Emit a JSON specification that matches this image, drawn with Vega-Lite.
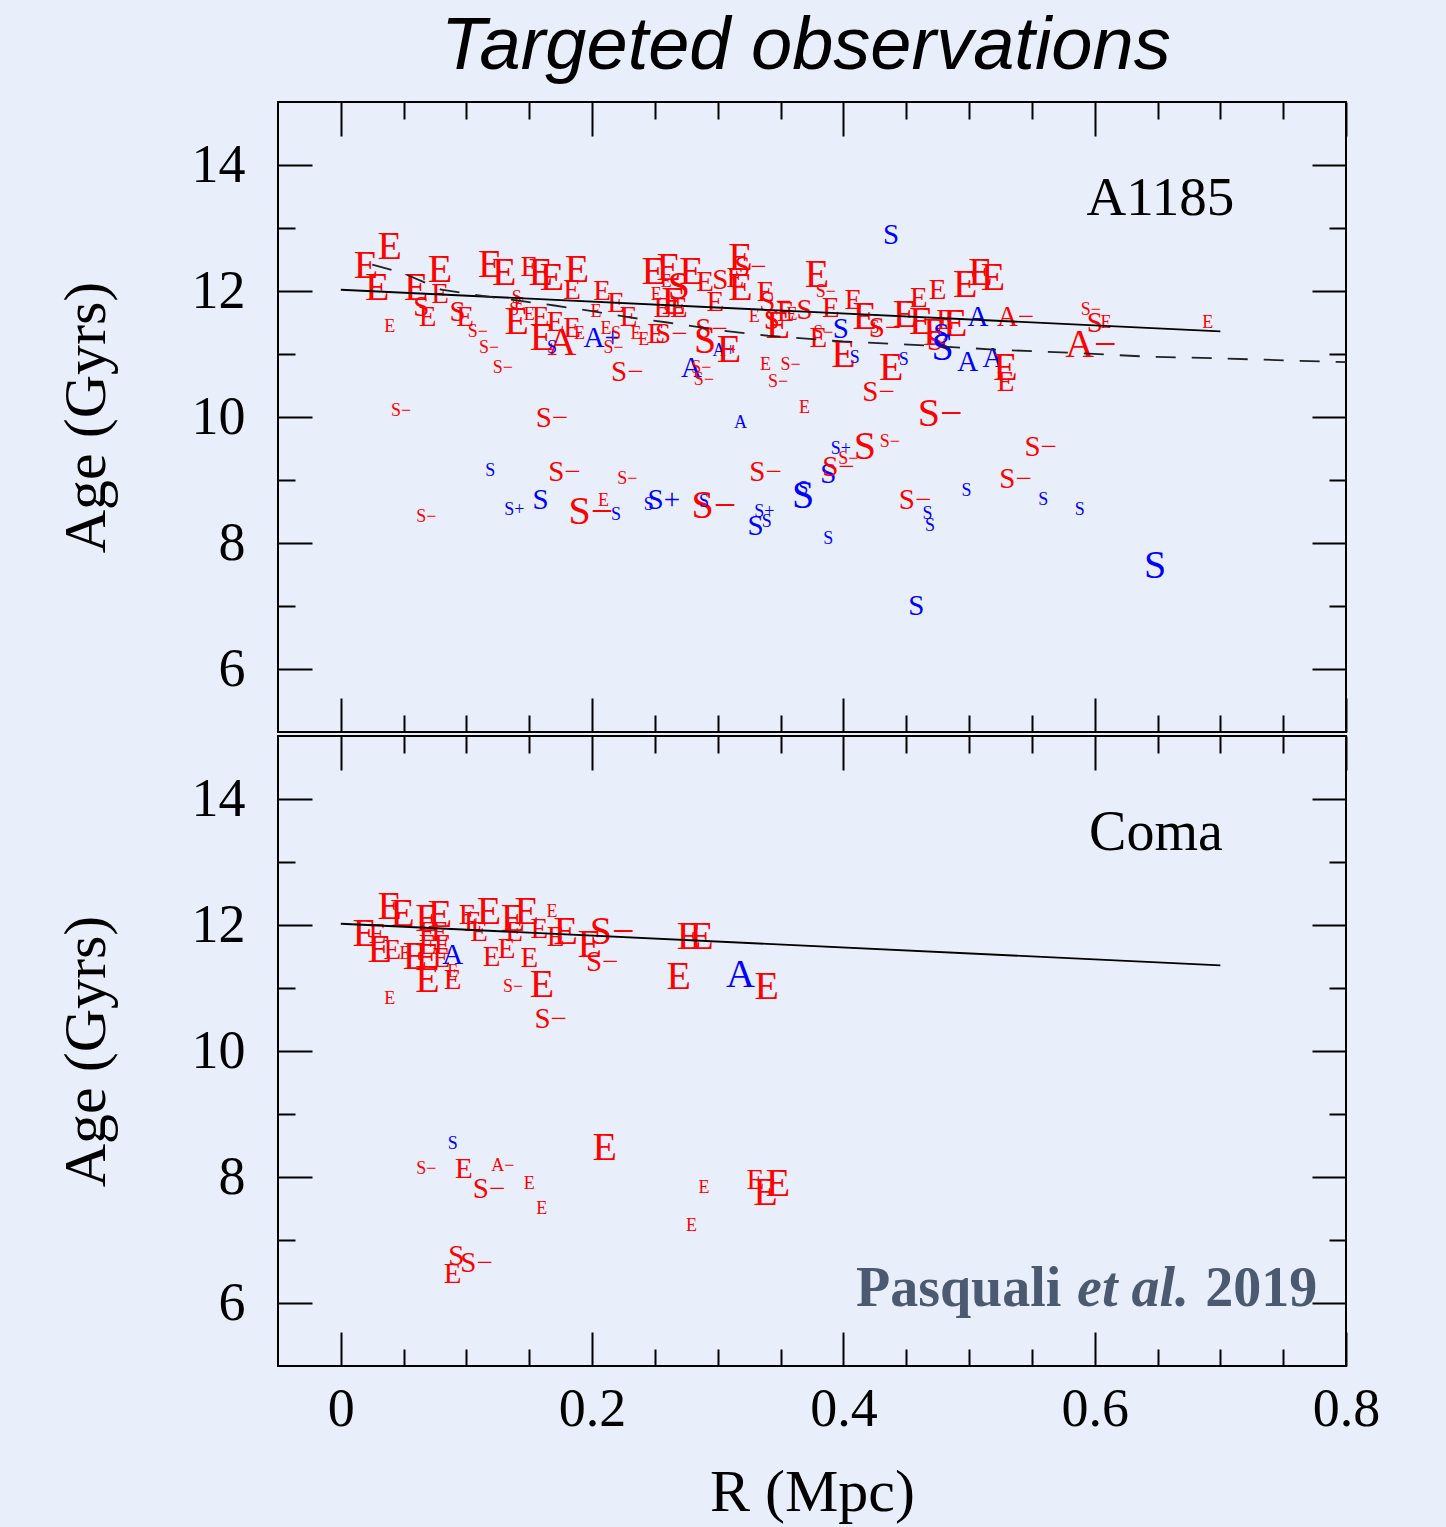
{
  "$schema": "https://vega.github.io/schema/vega-lite/v6.json",
  "background": "#e8effb",
  "padding": {"left": 55, "top": 10, "right": 70, "bottom": 20},
  "title": {
    "text": "Targeted observations",
    "font": "Liberation Sans",
    "fontStyle": "italic",
    "fontWeight": "normal",
    "fontSize": 74,
    "color": "#000000",
    "anchor": "middle",
    "baseline": "alphabetic",
    "offset": -43,
    "dx": 88
  },
  "config": {
    "view": {"stroke": "#000000", "strokeWidth": 2},
    "axis": {
      "domain": false,
      "grid": false,
      "tickColor": "#000000",
      "tickWidth": 2,
      "labelFont": "Liberation Serif",
      "labelFontSize": 54,
      "labelColor": "#000000",
      "titleFont": "Liberation Serif",
      "titleFontSize": 60,
      "titleFontWeight": "normal",
      "titleColor": "#000000"
    },
    "text": {"font": "Liberation Serif"}
  },
  "datasets": {
    "a1185": [
      {"r":0.020,"age":12.40,"t":"E","g":"R","w":3},
      {"r":0.039,"age":12.70,"t":"E","g":"R","w":3},
      {"r":0.029,"age":12.05,"t":"E","g":"R","w":3},
      {"r":0.039,"age":11.43,"t":"E","g":"R","w":1},
      {"r":0.048,"age":10.10,"t":"S−","g":"R","w":1},
      {"r":0.060,"age":12.05,"t":"E","g":"R","w":3},
      {"r":0.079,"age":12.34,"t":"E","g":"R","w":3},
      {"r":0.079,"age":11.96,"t":"E","g":"R","w":2},
      {"r":0.064,"age":11.75,"t":"S","g":"R","w":2},
      {"r":0.069,"age":11.58,"t":"E","g":"R","w":2},
      {"r":0.068,"age":8.41,"t":"S−","g":"R","w":1},
      {"r":0.093,"age":11.67,"t":"S","g":"R","w":2},
      {"r":0.099,"age":11.58,"t":"E","g":"R","w":2},
      {"r":0.109,"age":11.35,"t":"S−","g":"R","w":1},
      {"r":0.118,"age":11.10,"t":"S−","g":"R","w":1},
      {"r":0.129,"age":10.78,"t":"S−","g":"R","w":1},
      {"r":0.119,"age":12.42,"t":"E","g":"R","w":3},
      {"r":0.130,"age":12.29,"t":"E","g":"R","w":3},
      {"r":0.140,"age":11.51,"t":"E","g":"R","w":3},
      {"r":0.140,"age":11.89,"t":"S","g":"R","w":1},
      {"r":0.142,"age":11.78,"t":"E","g":"R","w":1},
      {"r":0.138,"age":11.70,"t":"S","g":"R","w":1},
      {"r":0.150,"age":12.38,"t":"E","g":"R","w":2},
      {"r":0.159,"age":12.29,"t":"E","g":"R","w":3},
      {"r":0.168,"age":12.21,"t":"E","g":"R","w":3},
      {"r":0.188,"age":12.34,"t":"E","g":"R","w":3},
      {"r":0.184,"age":12.02,"t":"E","g":"R","w":2},
      {"r":0.208,"age":12.00,"t":"E","g":"R","w":2},
      {"r":0.219,"age":11.81,"t":"E","g":"R","w":2},
      {"r":0.150,"age":11.62,"t":"E","g":"R","w":1},
      {"r":0.159,"age":11.58,"t":"E","g":"R","w":2},
      {"r":0.171,"age":11.51,"t":"E","g":"R","w":2},
      {"r":0.160,"age":11.26,"t":"E","g":"R","w":3},
      {"r":0.176,"age":11.18,"t":"A","g":"R","w":3},
      {"r":0.168,"age":11.10,"t":"S","g":"B","w":1},
      {"r":0.184,"age":11.42,"t":"E","g":"R","w":2},
      {"r":0.190,"age":11.31,"t":"E","g":"R","w":1},
      {"r":0.208,"age":11.26,"t":"A+","g":"B","w":2},
      {"r":0.211,"age":11.39,"t":"E","g":"R","w":1},
      {"r":0.219,"age":11.31,"t":"S","g":"R","w":1},
      {"r":0.217,"age":11.10,"t":"S−","g":"R","w":1},
      {"r":0.228,"age":10.72,"t":"S−","g":"R","w":2},
      {"r":0.168,"age":9.98,"t":"S−","g":"R","w":2},
      {"r":0.119,"age":9.14,"t":"S","g":"B","w":1},
      {"r":0.138,"age":8.53,"t":"S+","g":"B","w":1},
      {"r":0.159,"age":8.69,"t":"S","g":"B","w":2},
      {"r":0.178,"age":9.12,"t":"S−","g":"R","w":2},
      {"r":0.228,"age":9.01,"t":"S−","g":"R","w":1},
      {"r":0.199,"age":8.50,"t":"S−","g":"R","w":3},
      {"r":0.209,"age":8.66,"t":"E","g":"R","w":1},
      {"r":0.219,"age":8.44,"t":"S","g":"B","w":1},
      {"r":0.249,"age":12.30,"t":"E","g":"R","w":3},
      {"r":0.261,"age":12.37,"t":"E","g":"R","w":3},
      {"r":0.259,"age":12.15,"t":"E","g":"R","w":1},
      {"r":0.279,"age":12.30,"t":"E","g":"R","w":3},
      {"r":0.269,"age":12.07,"t":"S","g":"R","w":3},
      {"r":0.265,"age":11.83,"t":"E","g":"R","w":3},
      {"r":0.290,"age":12.15,"t":"E","g":"R","w":2},
      {"r":0.302,"age":12.18,"t":"S","g":"R","w":2},
      {"r":0.318,"age":12.53,"t":"E","g":"R","w":3},
      {"r":0.326,"age":12.38,"t":"S−","g":"R","w":2},
      {"r":0.318,"age":12.05,"t":"E","g":"R","w":3},
      {"r":0.314,"age":12.21,"t":"E","g":"R","w":2},
      {"r":0.338,"age":11.99,"t":"E","g":"R","w":2},
      {"r":0.346,"age":11.83,"t":"S−","g":"R","w":2},
      {"r":0.298,"age":11.83,"t":"E","g":"R","w":2},
      {"r":0.251,"age":11.94,"t":"E","g":"R","w":1},
      {"r":0.256,"age":11.73,"t":"E","g":"R","w":2},
      {"r":0.269,"age":11.73,"t":"E","g":"R","w":2},
      {"r":0.235,"age":11.31,"t":"E","g":"R","w":1},
      {"r":0.241,"age":11.23,"t":"E","g":"R","w":1},
      {"r":0.251,"age":11.31,"t":"E","g":"R","w":2},
      {"r":0.263,"age":11.31,"t":"S−","g":"R","w":2},
      {"r":0.295,"age":11.39,"t":"S−","g":"R","w":2},
      {"r":0.290,"age":11.20,"t":"S","g":"R","w":3},
      {"r":0.305,"age":11.04,"t":"A+","g":"B","w":1},
      {"r":0.309,"age":11.07,"t":"E","g":"R","w":3},
      {"r":0.279,"age":10.78,"t":"A","g":"B","w":2},
      {"r":0.287,"age":10.78,"t":"S−","g":"R","w":1},
      {"r":0.289,"age":10.59,"t":"S−","g":"R","w":1},
      {"r":0.338,"age":10.83,"t":"E","g":"R","w":1},
      {"r":0.358,"age":10.83,"t":"S−","g":"R","w":1},
      {"r":0.348,"age":10.55,"t":"S−","g":"R","w":1},
      {"r":0.329,"age":11.59,"t":"E","g":"R","w":1},
      {"r":0.343,"age":11.54,"t":"S","g":"R","w":2},
      {"r":0.348,"age":11.45,"t":"E","g":"R","w":3},
      {"r":0.369,"age":11.70,"t":"S","g":"R","w":2},
      {"r":0.359,"age":11.62,"t":"E","g":"R","w":1},
      {"r":0.380,"age":11.26,"t":"E","g":"R","w":2},
      {"r":0.384,"age":11.34,"t":"S−","g":"R","w":1},
      {"r":0.379,"age":12.26,"t":"E","g":"R","w":3},
      {"r":0.386,"age":11.99,"t":"S−","g":"R","w":1},
      {"r":0.398,"age":11.39,"t":"S","g":"B","w":2},
      {"r":0.400,"age":10.99,"t":"E","g":"R","w":3},
      {"r":0.409,"age":10.94,"t":"S","g":"B","w":1},
      {"r":0.390,"age":11.73,"t":"E","g":"R","w":2},
      {"r":0.408,"age":11.86,"t":"E","g":"R","w":2},
      {"r":0.417,"age":11.58,"t":"E","g":"R","w":3},
      {"r":0.425,"age":11.42,"t":"S","g":"R","w":1},
      {"r":0.433,"age":11.42,"t":"S−","g":"R","w":2},
      {"r":0.438,"age":10.78,"t":"E","g":"R","w":3},
      {"r":0.448,"age":10.91,"t":"S","g":"B","w":1},
      {"r":0.428,"age":10.40,"t":"S−","g":"R","w":2},
      {"r":0.438,"age":12.89,"t":"S","g":"B","w":2},
      {"r":0.369,"age":10.15,"t":"E","g":"R","w":1},
      {"r":0.354,"age":11.67,"t":"E","g":"R","w":2},
      {"r":0.449,"age":11.62,"t":"E","g":"R","w":3},
      {"r":0.460,"age":11.89,"t":"E","g":"R","w":2},
      {"r":0.475,"age":12.02,"t":"E","g":"R","w":2},
      {"r":0.497,"age":12.10,"t":"E","g":"R","w":3},
      {"r":0.509,"age":12.29,"t":"E","g":"R","w":3},
      {"r":0.519,"age":12.21,"t":"E","g":"R","w":3},
      {"r":0.462,"age":11.51,"t":"E","g":"R","w":3},
      {"r":0.473,"age":11.34,"t":"E","g":"R","w":3},
      {"r":0.481,"age":11.54,"t":"E","g":"R","w":2},
      {"r":0.489,"age":11.47,"t":"E","g":"R","w":3},
      {"r":0.478,"age":11.31,"t":"S","g":"B","w":2},
      {"r":0.473,"age":11.20,"t":"S","g":"R","w":2},
      {"r":0.479,"age":11.10,"t":"S","g":"B","w":3},
      {"r":0.507,"age":11.59,"t":"A","g":"B","w":2},
      {"r":0.537,"age":11.59,"t":"A−","g":"R","w":2},
      {"r":0.499,"age":10.88,"t":"A","g":"B","w":2},
      {"r":0.519,"age":10.94,"t":"A","g":"B","w":2},
      {"r":0.529,"age":10.78,"t":"E","g":"R","w":3},
      {"r":0.529,"age":10.55,"t":"E","g":"R","w":2},
      {"r":0.597,"age":11.70,"t":"S−","g":"R","w":1},
      {"r":0.600,"age":11.50,"t":"S","g":"R","w":2},
      {"r":0.609,"age":11.50,"t":"E","g":"R","w":1},
      {"r":0.690,"age":11.50,"t":"E","g":"R","w":1},
      {"r":0.597,"age":11.15,"t":"A−","g":"R","w":3},
      {"r":0.318,"age":9.91,"t":"A","g":"B","w":1},
      {"r":0.338,"age":9.12,"t":"S−","g":"R","w":2},
      {"r":0.257,"age":8.69,"t":"S+","g":"B","w":2},
      {"r":0.245,"age":8.61,"t":"S","g":"B","w":1},
      {"r":0.297,"age":8.58,"t":"S−","g":"R","w":3},
      {"r":0.289,"age":8.65,"t":"S","g":"B","w":1},
      {"r":0.337,"age":8.50,"t":"S+","g":"B","w":1},
      {"r":0.330,"age":8.27,"t":"S","g":"B","w":2},
      {"r":0.339,"age":8.33,"t":"S","g":"B","w":1},
      {"r":0.368,"age":8.74,"t":"S","g":"B","w":3},
      {"r":0.368,"age":8.85,"t":"S","g":"B","w":1},
      {"r":0.388,"age":9.09,"t":"S","g":"B","w":2},
      {"r":0.396,"age":9.20,"t":"S−","g":"R","w":2},
      {"r":0.398,"age":9.49,"t":"S+","g":"B","w":1},
      {"r":0.404,"age":9.33,"t":"S−","g":"R","w":1},
      {"r":0.417,"age":9.53,"t":"S","g":"R","w":3},
      {"r":0.437,"age":9.61,"t":"S−","g":"R","w":1},
      {"r":0.388,"age":8.06,"t":"S","g":"B","w":1},
      {"r":0.477,"age":10.04,"t":"S−","g":"R","w":3},
      {"r":0.557,"age":9.52,"t":"S−","g":"R","w":2},
      {"r":0.537,"age":9.01,"t":"S−","g":"R","w":2},
      {"r":0.457,"age":8.69,"t":"S−","g":"R","w":2},
      {"r":0.498,"age":8.82,"t":"S","g":"B","w":1},
      {"r":0.467,"age":8.46,"t":"S","g":"B","w":1},
      {"r":0.469,"age":8.27,"t":"S","g":"B","w":1},
      {"r":0.559,"age":8.69,"t":"S","g":"B","w":1},
      {"r":0.588,"age":8.53,"t":"S","g":"B","w":1},
      {"r":0.648,"age":7.63,"t":"S","g":"B","w":3},
      {"r":0.458,"age":7.00,"t":"S","g":"B","w":2},
      {"r":0.229,"age":11.58,"t":"E","g":"R","w":2},
      {"r":0.203,"age":11.67,"t":"E","g":"R","w":1}
    ],
    "coma": [
      {"r":0.039,"age":12.29,"t":"E","g":"R","w":3},
      {"r":0.049,"age":12.18,"t":"E","g":"R","w":3},
      {"r":0.019,"age":11.85,"t":"E","g":"R","w":3},
      {"r":0.029,"age":11.85,"t":"E","g":"R","w":2},
      {"r":0.031,"age":11.61,"t":"E","g":"R","w":3},
      {"r":0.041,"age":11.61,"t":"E","g":"R","w":2},
      {"r":0.051,"age":11.54,"t":"E","g":"R","w":1},
      {"r":0.059,"age":11.50,"t":"E","g":"R","w":3},
      {"r":0.039,"age":10.82,"t":"E","g":"R","w":1},
      {"r":0.069,"age":12.10,"t":"E","g":"R","w":3},
      {"r":0.079,"age":12.16,"t":"E","g":"R","w":3},
      {"r":0.069,"age":11.89,"t":"E","g":"R","w":2},
      {"r":0.079,"age":11.89,"t":"E","g":"R","w":2},
      {"r":0.069,"age":11.69,"t":"E","g":"R","w":2},
      {"r":0.081,"age":11.69,"t":"E","g":"R","w":2},
      {"r":0.069,"age":11.47,"t":"E","g":"R","w":3},
      {"r":0.080,"age":11.47,"t":"E","g":"R","w":2},
      {"r":0.089,"age":11.53,"t":"A","g":"B","w":2},
      {"r":0.069,"age":11.13,"t":"E","g":"R","w":3},
      {"r":0.089,"age":11.13,"t":"E","g":"R","w":2},
      {"r":0.089,"age":11.26,"t":"E","g":"R","w":1},
      {"r":0.101,"age":12.16,"t":"E","g":"R","w":2},
      {"r":0.105,"age":12.05,"t":"E","g":"R","w":2},
      {"r":0.118,"age":12.21,"t":"E","g":"R","w":3},
      {"r":0.110,"age":11.89,"t":"E","g":"R","w":2},
      {"r":0.120,"age":11.50,"t":"E","g":"R","w":2},
      {"r":0.132,"age":11.62,"t":"E","g":"R","w":2},
      {"r":0.137,"age":12.10,"t":"E","g":"R","w":3},
      {"r":0.138,"age":11.89,"t":"E","g":"R","w":2},
      {"r":0.148,"age":12.21,"t":"E","g":"R","w":3},
      {"r":0.150,"age":11.47,"t":"E","g":"R","w":2},
      {"r":0.158,"age":11.94,"t":"E","g":"R","w":2},
      {"r":0.168,"age":12.21,"t":"E","g":"R","w":1},
      {"r":0.171,"age":11.81,"t":"E","g":"R","w":2},
      {"r":0.160,"age":11.05,"t":"E","g":"R","w":3},
      {"r":0.137,"age":11.02,"t":"S−","g":"R","w":1},
      {"r":0.167,"age":10.51,"t":"S−","g":"R","w":2},
      {"r":0.179,"age":11.89,"t":"E","g":"R","w":3},
      {"r":0.198,"age":11.69,"t":"E","g":"R","w":3},
      {"r":0.208,"age":11.42,"t":"S−","g":"R","w":2},
      {"r":0.216,"age":11.89,"t":"S−","g":"R","w":3},
      {"r":0.277,"age":11.81,"t":"E","g":"R","w":3},
      {"r":0.287,"age":11.81,"t":"E","g":"R","w":3},
      {"r":0.269,"age":11.18,"t":"E","g":"R","w":3},
      {"r":0.318,"age":11.21,"t":"A","g":"B","w":3},
      {"r":0.339,"age":11.02,"t":"E","g":"R","w":3},
      {"r":0.089,"age":8.53,"t":"S","g":"B","w":1},
      {"r":0.068,"age":8.12,"t":"S−","g":"R","w":1},
      {"r":0.098,"age":8.12,"t":"E","g":"R","w":2},
      {"r":0.129,"age":8.17,"t":"A−","g":"R","w":1},
      {"r":0.118,"age":7.81,"t":"S−","g":"R","w":2},
      {"r":0.150,"age":7.89,"t":"E","g":"R","w":1},
      {"r":0.160,"age":7.49,"t":"E","g":"R","w":1},
      {"r":0.210,"age":8.46,"t":"E","g":"R","w":3},
      {"r":0.289,"age":7.82,"t":"E","g":"R","w":1},
      {"r":0.279,"age":7.22,"t":"E","g":"R","w":1},
      {"r":0.330,"age":7.96,"t":"E","g":"R","w":2},
      {"r":0.338,"age":7.74,"t":"E","g":"R","w":3},
      {"r":0.348,"age":7.89,"t":"E","g":"R","w":3},
      {"r":0.092,"age":6.74,"t":"S","g":"R","w":2},
      {"r":0.108,"age":6.63,"t":"S−","g":"R","w":2},
      {"r":0.089,"age":6.46,"t":"E","g":"R","w":2}
    ],
    "fit": [
      {"r":0.0,"age":12.02},
      {"r":0.7,"age":11.36}
    ],
    "trend": [
      {"r":0.025,"age":12.42},
      {"r":0.05,"age":12.28},
      {"r":0.08,"age":12.02},
      {"r":0.11,"age":11.93},
      {"r":0.14,"age":11.85},
      {"r":0.17,"age":11.77},
      {"r":0.2,"age":11.68},
      {"r":0.23,"age":11.58},
      {"r":0.26,"age":11.50},
      {"r":0.3,"age":11.38},
      {"r":0.34,"age":11.29},
      {"r":0.4,"age":11.20},
      {"r":0.47,"age":11.13},
      {"r":0.52,"age":11.07},
      {"r":0.58,"age":11.02},
      {"r":0.64,"age":10.96},
      {"r":0.7,"age":10.93},
      {"r":0.8,"age":10.87}
    ]
  },
  "spacing": 0,
  "vconcat": [
    {
      "width": 1068,
      "height": 630,
      "resolve": {"axis": {"x": "independent", "y": "independent"}},
      "layer": [
        {
          "data": {"name": "a1185"},
          "mark": {"type": "text", "align": "center", "baseline": "middle"},
          "encoding": {
            "x": {
              "field": "r", "type": "quantitative",
              "scale": {"domain": [-0.05, 0.8], "nice": false, "zero": false},
              "axis": {
                "orient": "bottom",
                "values": [0,0.05,0.1,0.15,0.2,0.25,0.3,0.35,0.4,0.45,0.5,0.55,0.6,0.65,0.7,0.75,0.8],
                "tickSize": {"condition": {"test": "abs(datum.value*5 - round(datum.value*5)) < 0.001", "value": -34}, "value": -17},
                "labels": false,
                "title": null
              }
            },
            "y": {
              "field": "age", "type": "quantitative",
              "scale": {"domain": [5, 15], "nice": false, "zero": false},
              "axis": {
                "orient": "left",
                "values": [6,7,8,9,10,11,12,13,14],
                "tickSize": {"condition": {"test": "datum.value % 2 === 0", "value": -34}, "value": -17},
                "labelExpr": "datum.value % 2 === 0 ? datum.label : ''",
                "format": "d",
                "labelPadding": 67,
                "title": "Age (Gyrs)",
                "titlePadding": 74
              }
            },
            "text": {"field": "t"},
            "color": {"field": "g", "type": "nominal", "scale": {"domain": ["R", "B"], "range": ["#ff0000", "#0000ff"]}, "legend": null},
            "size": {"field": "w", "type": "quantitative", "scale": {"type": "linear", "domain": [1, 3], "range": [18, 40], "zero": false}, "legend": null}
          }
        },
        {
          "data": {"name": "fit"},
          "mark": {"type": "line", "color": "#000000", "strokeWidth": 1.8},
          "encoding": {
            "x": {
              "field": "r", "type": "quantitative",
              "axis": {
                "orient": "top",
                "values": [0,0.05,0.1,0.15,0.2,0.25,0.3,0.35,0.4,0.45,0.5,0.55,0.6,0.65,0.7,0.75,0.8],
                "tickSize": {"condition": {"test": "abs(datum.value*5 - round(datum.value*5)) < 0.001", "value": -34}, "value": -17},
                "labels": false,
                "title": null
              }
            },
            "y": {
              "field": "age", "type": "quantitative",
              "axis": {
                "orient": "right",
                "values": [6,7,8,9,10,11,12,13,14],
                "tickSize": {"condition": {"test": "datum.value % 2 === 0", "value": -34}, "value": -17},
                "labels": false,
                "title": null
              }
            }
          }
        },
        {
          "data": {"name": "trend"},
          "mark": {"type": "line", "color": "#222222", "strokeWidth": 1.8, "strokeDash": [20, 16]},
          "encoding": {
            "x": {"field": "r", "type": "quantitative", "axis": null},
            "y": {"field": "age", "type": "quantitative", "axis": null}
          }
        },
        {
          "data": {"values": [{"r": 0.711, "age": 13.21, "t": "A1185"}]},
          "mark": {"type": "text", "align": "right", "baseline": "alphabetic", "fontSize": 55, "color": "#000000"},
          "encoding": {
            "x": {"field": "r", "type": "quantitative", "axis": null},
            "y": {"field": "age", "type": "quantitative", "axis": null},
            "text": {"field": "t"}
          }
        }
      ]
    },
    {
      "width": 1068,
      "height": 630,
      "resolve": {"axis": {"x": "independent", "y": "independent"}},
      "layer": [
        {
          "data": {"name": "coma"},
          "mark": {"type": "text", "align": "center", "baseline": "middle"},
          "encoding": {
            "x": {
              "field": "r", "type": "quantitative",
              "scale": {"domain": [-0.05, 0.8], "nice": false, "zero": false},
              "axis": {
                "orient": "bottom",
                "values": [0,0.05,0.1,0.15,0.2,0.25,0.3,0.35,0.4,0.45,0.5,0.55,0.6,0.65,0.7,0.75,0.8],
                "tickSize": {"condition": {"test": "abs(datum.value*5 - round(datum.value*5)) < 0.001", "value": -34}, "value": -17},
                "format": "~g",
                "labelExpr": "abs(datum.value*5 - round(datum.value*5)) < 0.001 ? datum.label : ''",
                "labelPadding": 50,
                "labelFlush": false,
                "title": "R (Mpc)",
                "titlePadding": 27
              }
            },
            "y": {
              "field": "age", "type": "quantitative",
              "scale": {"domain": [5, 15], "nice": false, "zero": false},
              "axis": {
                "orient": "left",
                "values": [6,7,8,9,10,11,12,13,14],
                "tickSize": {"condition": {"test": "datum.value % 2 === 0", "value": -34}, "value": -17},
                "labelExpr": "datum.value % 2 === 0 ? datum.label : ''",
                "format": "d",
                "labelPadding": 67,
                "title": "Age (Gyrs)",
                "titlePadding": 74
              }
            },
            "text": {"field": "t"},
            "color": {"field": "g", "type": "nominal", "scale": {"domain": ["R", "B"], "range": ["#ff0000", "#0000ff"]}, "legend": null},
            "size": {"field": "w", "type": "quantitative", "scale": {"type": "linear", "domain": [1, 3], "range": [18, 40], "zero": false}, "legend": null}
          }
        },
        {
          "data": {"name": "fit"},
          "mark": {"type": "line", "color": "#000000", "strokeWidth": 1.8},
          "encoding": {
            "x": {
              "field": "r", "type": "quantitative",
              "axis": {
                "orient": "top",
                "values": [0,0.05,0.1,0.15,0.2,0.25,0.3,0.35,0.4,0.45,0.5,0.55,0.6,0.65,0.7,0.75,0.8],
                "tickSize": {"condition": {"test": "abs(datum.value*5 - round(datum.value*5)) < 0.001", "value": -34}, "value": -17},
                "labels": false,
                "title": null
              }
            },
            "y": {
              "field": "age", "type": "quantitative",
              "axis": {
                "orient": "right",
                "values": [6,7,8,9,10,11,12,13,14],
                "tickSize": {"condition": {"test": "datum.value % 2 === 0", "value": -34}, "value": -17},
                "labels": false,
                "title": null
              }
            }
          }
        },
        {
          "data": {"values": [{"r": 0.702, "age": 13.19, "t": "Coma"}]},
          "mark": {"type": "text", "align": "right", "baseline": "alphabetic", "fontSize": 56, "color": "#000000"},
          "encoding": {
            "x": {"field": "r", "type": "quantitative", "axis": null},
            "y": {"field": "age", "type": "quantitative", "axis": null},
            "text": {"field": "t"}
          }
        },
        {
          "data": {"values": [{"r": 0.410, "age": 5.95, "t": "Pasquali"}, {"r": 0.688, "age": 5.95, "t": "2019"}]},
          "mark": {"type": "text", "align": "left", "baseline": "alphabetic", "fontSize": 56, "fontWeight": "bold", "color": "#4b5a70"},
          "encoding": {
            "x": {"field": "r", "type": "quantitative", "axis": null},
            "y": {"field": "age", "type": "quantitative", "axis": null},
            "text": {"field": "t"}
          }
        },
        {
          "data": {"values": [{"r": 0.586, "age": 5.95, "t": "et al."}]},
          "mark": {"type": "text", "align": "left", "baseline": "alphabetic", "fontSize": 56, "fontWeight": "bold", "fontStyle": "italic", "color": "#4b5a70"},
          "encoding": {
            "x": {"field": "r", "type": "quantitative", "axis": null},
            "y": {"field": "age", "type": "quantitative", "axis": null},
            "text": {"field": "t"}
          }
        }
      ]
    }
  ]
}
